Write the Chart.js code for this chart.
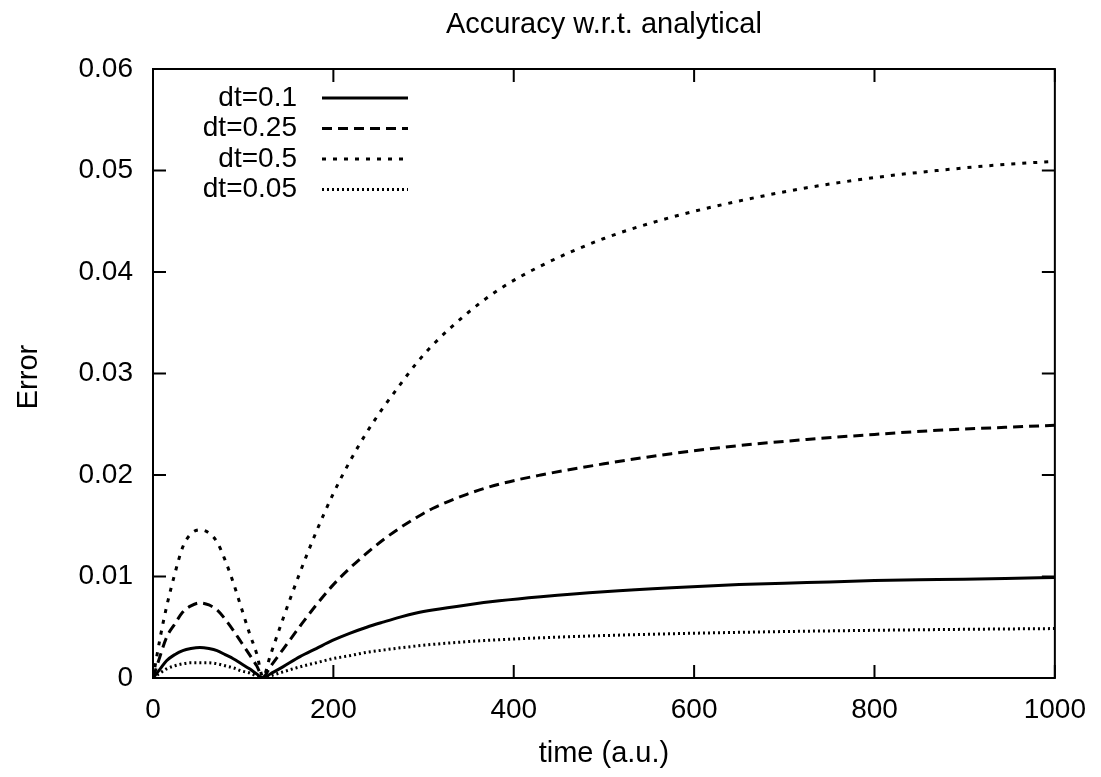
<!DOCTYPE html>
<html>
<head>
<meta charset="utf-8">
<script src="https://cdn.jsdelivr.net/npm/chart.js@4/dist/chart.umd.min.js"></script>
<style>
  html, body { margin: 0; padding: 0; background: #fff; }
  #wrap { width: 1101px; height: 777px; }
</style>
</head>
<body>
<div id="wrap"><canvas id="errChart" width="1101" height="777"></canvas></div>
<script>
// значения
const times = [0, 8, 15, 24, 33, 42, 52, 62, 71, 80, 89, 98, 107, 115, 122, 130, 144, 163, 181, 199, 218, 237, 255, 274, 292, 310, 348, 384, 430, 500, 575, 650, 725, 800, 870, 945, 1000];

const err01  = [0, 0.0009, 0.0017, 0.0023, 0.0027, 0.0029, 0.0030, 0.0029, 0.0027, 0.0023, 0.0019, 0.0014, 0.0009, 0.0004, 0.0000, 0.0004, 0.0011, 0.0021, 0.0029, 0.0037, 0.0044, 0.0050, 0.0055, 0.0060, 0.0064, 0.0067, 0.0072, 0.0076, 0.0080, 0.0085, 0.0089, 0.0092, 0.0094, 0.0096, 0.0097, 0.0098, 0.0099];
const err025 = [0, 0.0022, 0.0040, 0.0053, 0.0065, 0.0071, 0.0074, 0.0072, 0.0067, 0.0058, 0.0047, 0.0035, 0.0023, 0.0012, 0.0001, 0.0011, 0.0028, 0.0051, 0.0072, 0.0091, 0.0108, 0.0123, 0.0136, 0.0148, 0.0158, 0.0167, 0.0181, 0.0191, 0.0200, 0.0211, 0.0221, 0.0229, 0.0235, 0.0240, 0.0244, 0.0247, 0.0249];
const err05  = [0, 0.0040, 0.0070, 0.0102, 0.0129, 0.0142, 0.0146, 0.0143, 0.0134, 0.0116, 0.0094, 0.0069, 0.0044, 0.0024, 0.0001, 0.0022, 0.0058, 0.0104, 0.0144, 0.0180, 0.0213, 0.0242, 0.0266, 0.0289, 0.0310, 0.0328, 0.0359, 0.0383, 0.0406, 0.0433, 0.0454, 0.0470, 0.0483, 0.0493, 0.0500, 0.0506, 0.0509];
const err005 = [0, 0.0005, 0.0009, 0.0012, 0.0014, 0.0015, 0.0015, 0.0015, 0.0014, 0.0012, 0.0010, 0.0007, 0.0005, 0.0002, 0.0000, 0.0002, 0.0006, 0.0011, 0.0015, 0.0019, 0.0022, 0.00253, 0.00275, 0.00297, 0.00315, 0.00331, 0.00358, 0.00377, 0.00396, 0.00418, 0.00436, 0.00450, 0.00461, 0.00470, 0.00477, 0.00483, 0.00487];

const seriesLabels = ['dt=0.1', 'dt=0.25', 'dt=0.5', 'dt=0.05'];
const seriesValues = [err01, err025, err05, err005];
const seriesDash = [[], [10, 6], [4, 7], [2, 3]];

const FONT = '"Liberation Sans", Arial, Helvetica, sans-serif';

function toPoints(values) {
    return times.map((t, i) => ({ x: t, y: values[i] }));
}

// рамка и засечки внутрь, как в gnuplot
const framePlugin = {
    id: 'frame',
    afterDraw(chart) {
        const ctx = chart.ctx;
        const a = chart.chartArea;
        const xs = chart.scales.x;
        const ys = chart.scales.y;
        const len = 13;
        ctx.save();
        ctx.strokeStyle = '#000';
        ctx.lineWidth = 2;
        ctx.strokeRect(a.left, a.top, a.right - a.left, a.bottom - a.top);
        ctx.beginPath();
        xs.ticks.forEach(t => {
            const px = xs.getPixelForValue(t.value);
            ctx.moveTo(px, a.bottom); ctx.lineTo(px, a.bottom - len);
            ctx.moveTo(px, a.top); ctx.lineTo(px, a.top + len);
        });
        ys.ticks.forEach(t => {
            const py = ys.getPixelForValue(t.value);
            ctx.moveTo(a.left, py); ctx.lineTo(a.left + len, py);
            ctx.moveTo(a.right, py); ctx.lineTo(a.right - len, py);
        });
        ctx.stroke();

        // заголовок и подписи осей
        ctx.fillStyle = '#000';
        ctx.textAlign = 'center';
        ctx.textBaseline = 'alphabetic';
        ctx.font = '29px ' + FONT;
        ctx.fillText('Accuracy w.r.t. analytical', (a.left + a.right) / 2, 33);
        ctx.fillText('time (a.u.)', (a.left + a.right) / 2, 762);
        ctx.save();
        ctx.translate(37, 377);
        ctx.rotate(-Math.PI / 2);
        ctx.fillText('Error', 0, 0);
        ctx.restore();

        // легенда: текст справа налево, потом образец линии
        ctx.textBaseline = 'middle';
        chart.data.datasets.forEach((ds, i) => {
            const y = 98 + i * 30.5;
            ctx.textAlign = 'right';
            ctx.font = '28px ' + FONT;
            ctx.fillText(ds.label, 297, y);
            ctx.beginPath();
            ctx.setLineDash(ds.borderDash);
            ctx.lineWidth = ds.borderWidth;
            ctx.moveTo(322, y);
            ctx.lineTo(408, y);
            ctx.stroke();
            ctx.setLineDash([]);
        });
        ctx.restore();
    }
};

const datasets = seriesLabels.map((label, i) => ({
    label: label,
    data: toPoints(seriesValues[i]),
    borderColor: '#000',
    borderWidth: 3,
    borderDash: seriesDash[i],
    pointRadius: 0,
    cubicInterpolationMode: 'monotone',
    fill: false
}));

new Chart(document.getElementById('errChart'), {
    type: 'line',
    data: { datasets: datasets },
    plugins: [framePlugin],
    options: {
        responsive: false,
        animation: false,
        devicePixelRatio: 1,
        layout: { padding: { left: 0, right: 45, top: 69, bottom: 0 } },
        plugins: {
            legend: { display: false },
            title: { display: false },
            tooltip: { enabled: false }
        },
        scales: {
            x: {
                type: 'linear',
                min: 0,
                max: 1000,
                grid: { display: false, drawTicks: false },
                border: { display: false },
                ticks: {
                    stepSize: 200,
                    color: '#000',
                    padding: 15,
                    maxRotation: 0,
                    font: { family: FONT, size: 28 },
                    callback: v => String(v)
                },
                afterFit(scale) { scale.height = 99; }
            },
            y: {
                min: 0,
                max: 0.06,
                grid: { display: false, drawTicks: false },
                border: { display: false },
                ticks: {
                    stepSize: 0.01,
                    color: '#000',
                    padding: 20,
                    font: { family: FONT, size: 28 },
                    callback: v => (v === 0 ? '0' : v.toFixed(2))
                },
                afterFit(scale) { scale.width = 153; }
            }
        }
    }
});
</script>
</body>
</html>
